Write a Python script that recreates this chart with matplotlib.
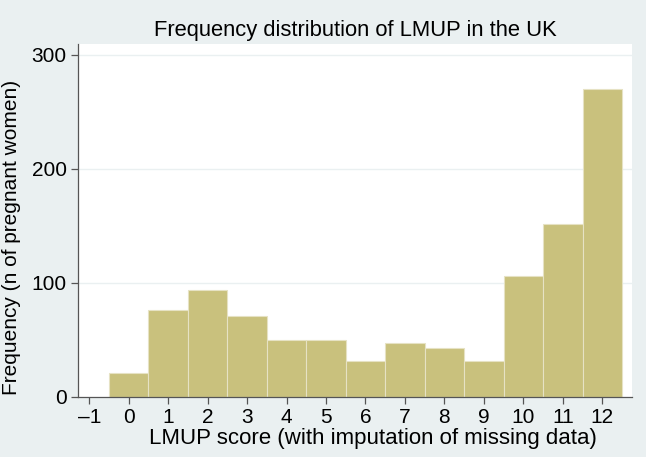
import matplotlib
matplotlib.use("Agg")
import matplotlib.pyplot as plt

# LMUP score histogram (counts)
scores = [0, 1, 2, 3, 4, 5, 6, 7, 8, 9, 10, 11, 12]
counts = [21, 76, 94, 71, 50, 50, 32, 47, 43, 32, 106, 152, 270]
xticks = list(range(-1, 13))
yticks = [0, 100, 200, 300]

bg = "#eaf0f1"
bar_col = "#c9c17d"

plt.rcParams['font.family'] = ['Liberation Sans', 'DejaVu Sans']

fig = plt.figure(figsize=(6.46, 4.57), dpi=100, facecolor=bg)
ax = fig.add_axes([0.1207, 0.1313, 0.8576, 0.7724])
ax.set_facecolor("white")

ax.bar(scores, counts, width=1.0, color=bar_col, edgecolor="#e6e2c4", linewidth=0.8, zorder=2)

ax.set_xlim(-1.286, 12.753)
ax.set_ylim(0, 309.6)
ax.set_xticks(xticks)
ax.set_xticklabels([str(t).replace('-', '\u2013') for t in xticks])
ax.set_yticks(yticks)
for y in yticks[1:]:
    ax.axhline(y, color=bg, linewidth=1.0, zorder=1)

for s in ["top", "right"]:
    ax.spines[s].set_visible(False)
for s in ["left", "bottom"]:
    ax.spines[s].set_color("#555555")
    ax.spines[s].set_linewidth(0.9)
ax.tick_params(direction="out", length=5, width=0.9, color="#555555", labelsize=15)
ax.tick_params(axis="x", pad=3.2)
ax.tick_params(axis="y", pad=3)

ax.set_title("Frequency distribution of LMUP in the UK", fontsize=15.8, pad=5.8)
ax.set_xlabel("LMUP score (with imputation of missing data)", fontsize=16)
ax.xaxis.set_label_coords(0.532, -0.088)
ax.set_ylabel("Frequency (n of pregnant women)", fontsize=15)
ax.yaxis.set_label_coords(-0.102, 0.452)

fig.savefig("out.png", dpi=100, facecolor=bg)
